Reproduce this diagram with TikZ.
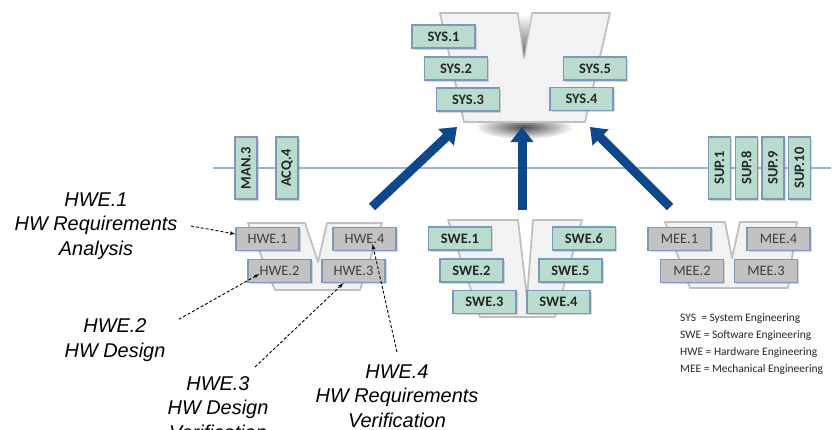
\documentclass[tikz,border=0pt]{standalone}
\usepackage{fontspec}
\setmainfont{Carlito}
\newfontfamily\labelfont{Liberation Sans}
\usepackage[rgb]{xcolor}
\usepackage{tikz}
\usetikzlibrary{arrows,arrows.meta,shadows,positioning}

\definecolor{boxgreen}{RGB}{186,220,206}
\definecolor{boxgray}{RGB}{194,194,194}
\definecolor{boxedge}{RGB}{122,152,192}
\definecolor{vfill}{RGB}{242,242,242}
\definecolor{vedge}{RGB}{192,192,192}
\definecolor{arrowblue}{RGB}{14,72,138}
\definecolor{lineblue}{RGB}{150,180,215}

\begin{document}
\begin{tikzpicture}[>=latex',
	sysbox/.style={draw=boxedge, fill=boxgreen, line width=1.2bp, minimum width=63bp, minimum height=23bp, inner sep=0pt,
		font=\fontsize{14.5}{16}\selectfont\bfseries, text=black!85,
		drop shadow={shadow xshift=1.5bp, shadow yshift=-1.5bp, opacity=0.3}},
	hwbox/.style={sysbox, fill=boxgray, font=\fontsize{14.5}{16}\selectfont, text=black!75},
	vbox/.style={sysbox, rotate=90, minimum width=62bp, minimum height=22bp},
	vshape/.style={fill=vfill, draw=vedge, line width=1.8bp, line join=round},
	bigarrow/.style={draw=arrowblue, line width=9bp, -{Triangle[length=15bp,width=22bp]}},
	note/.style={align=center, font=\labelfont\itshape\fontsize{20}{24.5}\selectfont},
	pointer/.style={->, line width=0.9bp, dash pattern=on 3bp off 2bp}]

	\fill[white] (0bp,0bp) rectangle (835bp,-430bp);
	\useasboundingbox (0bp,0bp) rectangle (835bp,-430bp);

	% the V shapes
	\shade[inner color=black!70, outer color=white] (524bp,-127bp) ellipse (50bp and 12bp);
	\draw[vshape] (440bp,-13bp) -- (518bp,-13bp) -- (524bp,-58bp) -- (532bp,-13bp) -- (610bp,-13bp)
		-- (585bp,-122bp) -- (464bp,-122bp) -- cycle;
	\shade[top color=white, bottom color=black!60] (519bp,-14bp) -- (524bp,-56bp) -- (531bp,-14bp) -- cycle;
	\draw[vshape] (248bp,-223bp) -- (305bp,-223bp) -- (318bp,-262bp) -- (327bp,-223bp) -- (382bp,-223bp)
		-- (360bp,-290bp) -- (275bp,-290bp) -- cycle;
	\draw[vshape] (448bp,-220bp) -- (518bp,-220bp) -- (527bp,-298bp) -- (533bp,-220bp) -- (582bp,-220bp)
		-- (555bp,-317bp) -- (480bp,-317bp) -- cycle;
	\draw[vshape] (665bp,-222bp) -- (725bp,-222bp) -- (732bp,-258bp) -- (740bp,-222bp) -- (797bp,-222bp)
		-- (788bp,-288bp) -- (690bp,-288bp) -- cycle;

	\coordinate (lineL) at (213bp,-168bp);
	\coordinate (lineR) at (831bp,-168bp);
	\draw[lineblue, line width=1.2bp] (lineL) -- (lineR);

	\node (sys1) at (443.5bp,-36.5bp) [sysbox] {SYS.1};
	\node (sys2) at (456bp,-68.5bp) [sysbox] {SYS.2};
	\node (sys3) at (468bp,-99.5bp) [sysbox] {SYS.3};
	\node (sys5) at (595bp,-68.5bp) [sysbox] {SYS.5};
	\node (sys4) at (581.5bp,-99bp) [sysbox] {SYS.4};

	\node (man3) at (246bp,-168bp) [vbox] {MAN.3};
	\node (acq4) at (287bp,-168bp) [vbox] {ACQ.4};
	\node (sup1) at (719.5bp,-168bp) [vbox] {SUP.1};
	\node (sup8) at (746.5bp,-168bp) [vbox] {SUP.8};
	\node (sup9) at (773bp,-168bp) [vbox] {SUP.9};
	\node (sup10) at (799.5bp,-168bp) [vbox] {SUP.10};

	\node (hwe1) at (267.5bp,-239bp) [hwbox] {HWE.1};
	\node (hwe4) at (364.5bp,-239bp) [hwbox] {HWE.4};
	\node (hwe2) at (279.5bp,-271bp) [hwbox] {HWE.2};
	\node (hwe3) at (353.5bp,-271bp) [hwbox] {HWE.3};

	\node (swe1) at (460bp,-238.5bp) [sysbox] {SWE.1};
	\node (swe6) at (584bp,-238.5bp) [sysbox] {SWE.6};
	\node (swe2) at (471.5bp,-270.5bp) [sysbox] {SWE.2};
	\node (swe5) at (570.5bp,-270.5bp) [sysbox] {SWE.5};
	\node (swe3) at (484.5bp,-302bp) [sysbox] {SWE.3};
	\node (swe4) at (558.5bp,-302bp) [sysbox] {SWE.4};

	\node (mee1) at (679.5bp,-239bp) [hwbox] {MEE.1};
	\node (mee4) at (778.5bp,-239bp) [hwbox] {MEE.4};
	\node (mee2) at (692bp,-271bp) [hwbox] {MEE.2};
	\node (mee3) at (766bp,-271bp) [hwbox] {MEE.3};

	% arrows up to the system V
	\coordinate (hwfoot) at (372bp,-207bp);
	\coordinate (hwhead) at (457bp,-127bp);
	\coordinate (swfoot) at (522bp,-210bp);
	\coordinate (swhead) at (522bp,-127bp);
	\coordinate (mefoot) at (670bp,-207bp);
	\coordinate (mehead) at (590bp,-127bp);
	\draw[bigarrow] (hwfoot) -- (hwhead);
	\draw[bigarrow] (swfoot) -- (swhead);
	\draw[bigarrow] (mefoot) -- (mehead);

	\node (lab1) at (96bp,-226bp) [note] {HWE.1\\HW Requirements\\Analysis};
	\node (lab2) at (115bp,-340bp) [note] {HWE.2\\HW Design};
	\node (lab3) at (218bp,-408bp) [note] {HWE.3\\HW Design\\Verification};
	\node (lab4) at (397bp,-396bp) [note] {HWE.4\\HW Requirements\\Verification};

	\draw[pointer] ([xshift=10bp]lab1.east) -- ([yshift=5bp]hwe1.west);
	\draw[pointer] ([shift={(10bp,-4bp)}]lab2.north east) -- ([shift={(12bp,-3bp)}]hwe2.west);
	\draw[pointer] ([shift={(37bp,6bp)}]lab3.north) -- ([xshift=-10bp]hwe3.south);
	\draw[pointer] ([yshift=9bp]lab4.north) -- ([shift={(8bp,-5bp)}]hwe4.center);

	\node (legend) at (680bp,-344bp) [anchor=west, align=left, inner sep=0pt, font=\fontsize{11.5}{17.3}\selectfont, text=black!85]
		{SYS\ \ = System Engineering\\SWE = Software Engineering\\HWE = Hardware Engineering\\MEE = Mechanical Engineering};

\end{tikzpicture}
\end{document}
